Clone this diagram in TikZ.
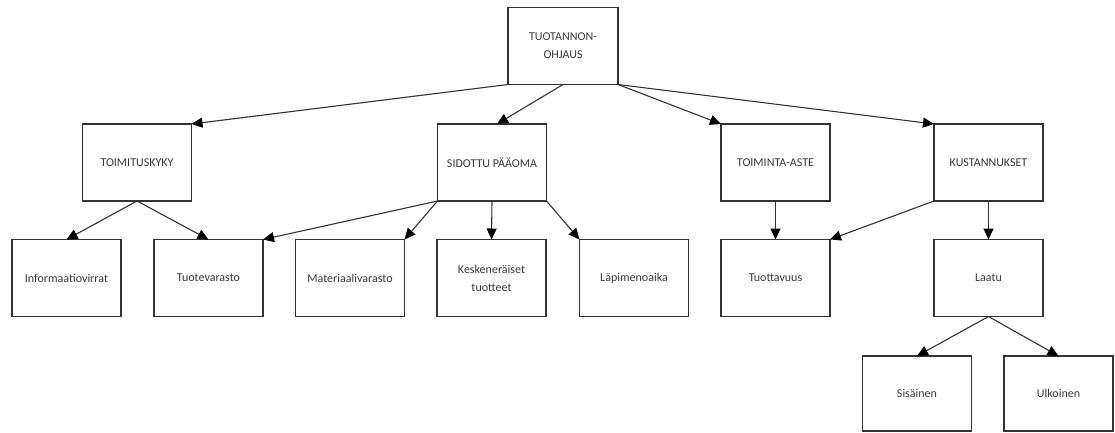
\documentclass[tikz,border=0pt]{standalone}
\usepackage{fontspec}
\setmainfont{Carlito}
\usetikzlibrary{arrows.meta}
\definecolor{linec}{HTML}{333333}
\definecolor{textc}{HTML}{3A3A3A}
\tikzset{
  box/.style={draw=linec, line width=1.1pt, rectangle, minimum width=109pt, minimum height=77pt,
    inner sep=0pt, outer sep=0pt, align=center, font=\fontsize{12}{18}\selectfont, text=textc},
  lowbox/.style={box, minimum height=75pt},
  arr/.style={draw=linec, line width=1.1pt, -{Triangle[length=11pt,width=10pt,color=black]}}
}
\begin{document}
\begin{tikzpicture}[x=1pt,y=-1pt]
\useasboundingbox (0,0) rectangle (1115,432);
\node[box, minimum width=110pt] (top) at (563,46) {TUOTANNON-\\OHJAUS};
\node[box] (toim) at (137,162.5) {TOIMITUSKYKY};
\node[box] (sid) at (492,162.5) {SIDOTTU PÄÄOMA};
\node[box] (ta) at (775.5,162.5) {TOIMINTA-ASTE};
\node[box] (kus) at (988.5,162.5) {KUSTANNUKSET};
\node[box] (inf) at (66.5,278) {Informaatiovirrat};
\node[box] (tuo) at (208.5,278) {Tuotevarasto};
\node[box] (mat) at (350,278) {Materiaalivarasto};
\node[box] (kes) at (491.5,278) {Keskeneräiset\\tuotteet};
\node[box] (lap) at (634,278) {Läpimenoaika};
\node[box] (tuot) at (775.5,278) {Tuottavuus};
\node[box] (laa) at (988.5,278) {Laatu};
\node[lowbox] (sis) at (917,393.5) {Sisäinen};
\node[lowbox] (ulk) at (1058.5,393.5) {Ulkoinen};
\draw[arr] (top.south west) -- (toim.north east);
\draw[arr] (top.south) -- ([xshift=5pt]sid.north);
\draw[arr] (top.south east) -- (ta.north west);
\draw[arr] (top.south east) -- (kus.north west);
\draw[arr] (toim.south) -- (inf.north);
\draw[arr] (toim.south) -- (tuo.north);
\draw[arr] (sid.south west) -- (tuo.north east);
\draw[arr] (sid.south west) -- (mat.north east);
\draw[arr] (sid.south) -- (kes.north);
\draw[arr] (sid.south east) -- (lap.north west);
\draw[arr] (ta.south) -- (tuot.north);
\draw[arr] (kus.south west) -- (tuot.north east);
\draw[arr] (kus.south) -- (laa.north);
\draw[arr] (laa.south) -- (sis.north);
\draw[arr] (laa.south) -- (ulk.north);
\end{tikzpicture}
\end{document}
